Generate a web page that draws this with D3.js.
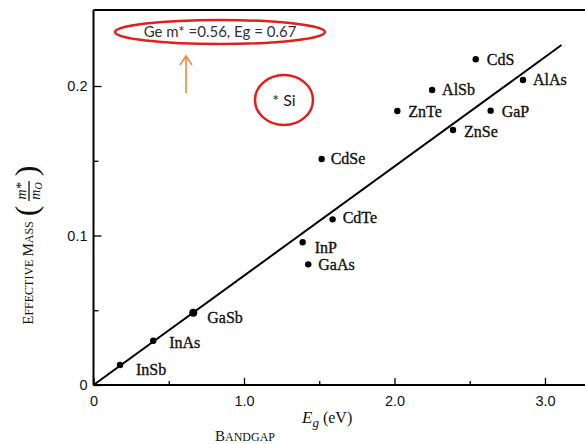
<!DOCTYPE html>
<html>
<head>
<meta charset="utf-8">
<script src="https://cdn.jsdelivr.net/npm/d3@7"></script>
<style>
  html, body { margin: 0; padding: 0; background: #fff; }
  svg { display: block; }
</style>
</head>
<body>
<svg id="chart" width="585" height="444"></svg>
<script>
// ---- data ----
const materials = ["InSb", "InAs", "GaSb", "InP", "GaAs", "CdTe", "CdSe", "ZnTe", "AlSb", "CdS", "AlAs", "GaP", "ZnSe"];
const bandgap   = [0.176, 0.397, 0.663, 1.390, 1.427, 1.589, 1.516, 2.019, 2.250, 2.540, 2.854, 2.639, 2.389];
const effMass   = [0.0134, 0.0296, 0.0484, 0.0955, 0.0807, 0.1108, 0.1512, 0.1833, 0.1973, 0.2179, 0.2040, 0.1835, 0.1706];
const fitEg = [0, 3.11];
const fitM  = [0, 0.2274];
const xMajorTicks = [0, 1, 2, 3];
const xTickLabels = ["0", "1.0", "2.0", "3.0"];
const xMinorTicks = [0.5, 1.5, 2.5];
const yMajorTicks = [0, 0.1, 0.2];
const yTickLabels = ["0", "0.1", "0.2"];
const yMinorTicks = [0.05, 0.15];
const noteGe = "Ge m* =0.56, Eg = 0.67";
const noteSi = "* Si";

// ---- label placement (styling, not data) ----
const labelOffset = {
  InSb: [16, 10], InAs: [16, 7], GaSb: [14, 10], InP: [12, 11], GaAs: [10, 6],
  CdTe: [10, 4], CdSe: [9, 5], ZnTe: [11, 6], AlSb: [10, 5], CdS: [11, 6],
  AlAs: [10, 5], GaP: [11, 6], ZnSe: [11, 7]
};

const svg = d3.select("#chart");
const x = d3.scaleLinear().domain([0, 3.26]).range([93.5, 584.1]);
const y = d3.scaleLinear().domain([0, 0.25]).range([385, 11.25]);

const tickFont = "'Liberation Sans', Arial, sans-serif";
const serif = "'Liberation Serif', 'DejaVu Serif', serif";

// x axis
const xAxis = svg.append("g").attr("transform", `translate(0,${y(0)})`)
  .call(d3.axisBottom(x).tickValues(xMajorTicks).tickSize(-7).tickPadding(11)
    .tickFormat((d, i) => xTickLabels[i]));
xAxis.select(".domain").attr("d", `M${x.range()[0]},0H585`).attr("stroke-width", 2);
xAxis.selectAll(".tick line").attr("stroke-width", 1.3);
xAxis.selectAll("text").attr("font-family", tickFont).attr("font-size", 14.5).attr("fill", "#111");
svg.append("g").attr("transform", `translate(0,${y(0)})`)
  .call(d3.axisBottom(x).tickValues(xMinorTicks).tickSize(-4).tickFormat(""))
  .call(g => g.select(".domain").remove())
  .selectAll(".tick line").attr("stroke-width", 1.3);

// y axis
const yAxis = svg.append("g").attr("transform", `translate(${x(0)},0)`)
  .call(d3.axisLeft(y).tickValues(yMajorTicks).tickSize(-8).tickPadding(6)
    .tickFormat((d, i) => yTickLabels[i]));
yAxis.select(".domain").attr("d", `M0,${y(0)}V10`).attr("stroke-width", 2);
yAxis.selectAll(".tick line").attr("stroke-width", 1.3);
yAxis.selectAll("text").attr("font-family", tickFont).attr("font-size", 14.5).attr("fill", "#111");
svg.append("g").attr("transform", `translate(${x(0)},0)`)
  .call(d3.axisLeft(y).tickValues(yMinorTicks).tickSize(-5).tickFormat(""))
  .call(g => g.select(".domain").remove())
  .selectAll(".tick line").attr("stroke-width", 1.3);

// top frame line
svg.append("line").attr("x1", x(0)).attr("x2", 585).attr("y1", 10).attr("y2", 10)
  .attr("stroke", "#000").attr("stroke-width", 2);

// fit line
svg.append("path")
  .datum(fitEg.map((e, i) => [e, fitM[i]]))
  .attr("d", d3.line().x(d => x(d[0])).y(d => y(d[1])))
  .attr("fill", "none").attr("stroke", "#000").attr("stroke-width", 2);

// points
const pts = materials.map((m, i) => ({ name: m, eg: bandgap[i], m: effMass[i] }));
svg.append("g").selectAll("circle").data(pts).join("circle")
  .attr("cx", d => x(d.eg)).attr("cy", d => y(d.m))
  .attr("r", d => d.name === "GaSb" ? 4 : 3.2).attr("fill", "#000");
svg.append("g").selectAll("text").data(pts).join("text")
  .attr("x", d => x(d.eg) + labelOffset[d.name][0])
  .attr("y", d => y(d.m) + labelOffset[d.name][1])
  .attr("font-family", serif).attr("font-size", 16).attr("fill", "#111")
  .attr("stroke", "#111").attr("stroke-width", 0.35)
  .text(d => d.name);

// y axis title (small caps) + fraction
const yt = svg.append("g").attr("transform", "translate(33,273) rotate(-90)");
const ytxt = yt.append("text").attr("text-anchor", "middle").attr("font-family", serif).attr("fill", "#111");
ytxt.append("tspan").attr("font-size", 15).text("E");
ytxt.append("tspan").attr("font-size", 12).text("FFECTIVE ");
ytxt.append("tspan").attr("font-size", 15).text("M");
ytxt.append("tspan").attr("font-size", 12).text("ASS");
const fr = svg.append("g").attr("transform", "translate(29,191) rotate(-90)");
fr.append("text").attr("x", 0).attr("y", -3).attr("text-anchor", "middle")
  .attr("font-family", serif).attr("font-style", "italic").attr("font-size", 14).attr("fill", "#111").text("m*");
fr.append("line").attr("x1", -10).attr("x2", 10).attr("y1", 0).attr("y2", 0).attr("stroke", "#111").attr("stroke-width", 1.3);
const den = fr.append("text").attr("x", 0).attr("y", 11).attr("text-anchor", "middle")
  .attr("font-family", serif).attr("font-style", "italic").attr("font-size", 14).attr("fill", "#111");
den.append("tspan").text("m");
den.append("tspan").attr("font-size", 10).attr("dy", 2).text("O");
fr.append("text").attr("x", -20).attr("y", 8).attr("text-anchor", "middle")
  .attr("font-family", serif).attr("font-size", 32).attr("fill", "#111").text("(");
fr.append("text").attr("x", 20).attr("y", 8).attr("text-anchor", "middle")
  .attr("font-family", serif).attr("font-size", 32).attr("fill", "#111").text(")");

// x axis title
const xt = svg.append("text").attr("x", 302).attr("y", 423).attr("font-family", serif).attr("fill", "#111");
xt.append("tspan").attr("font-style", "italic").attr("font-size", 17).text("E");
xt.append("tspan").attr("font-style", "italic").attr("font-size", 13).attr("dy", 4).text("g");
xt.append("tspan").attr("font-size", 16).attr("dy", -4).text(" (eV)");
const bt = svg.append("text").attr("x", 215).attr("y", 441).attr("font-family", serif).attr("fill", "#111");
bt.append("tspan").attr("font-size", 15).text("B");
bt.append("tspan").attr("font-size", 12).text("ANDGAP");

// annotations
svg.append("ellipse").attr("cx", 220).attr("cy", 32).attr("rx", 105).attr("ry", 12)
  .attr("fill", "none").attr("stroke", "#e0201c").attr("stroke-width", 2.5);
svg.append("text").attr("x", 220).attr("y", 37).attr("text-anchor", "middle")
  .attr("font-family", "Lato, 'Open Sans', sans-serif").attr("font-size", 15).attr("fill", "#333").text(noteGe);
svg.append("path").attr("d", "M186,93V56M180,65L186,56L192,65")
  .attr("fill", "none").attr("stroke", "#f0883e").attr("stroke-width", 1.6);
svg.append("ellipse").attr("cx", 284).attr("cy", 100).attr("rx", 29).attr("ry", 25)
  .attr("fill", "none").attr("stroke", "#e0201c").attr("stroke-width", 2.5);
svg.append("text").attr("x", 284).attr("y", 106).attr("text-anchor", "middle")
  .attr("font-family", "Lato, 'Open Sans', sans-serif").attr("font-size", 16).attr("fill", "#222").text(noteSi);
</script>
</body>
</html>
